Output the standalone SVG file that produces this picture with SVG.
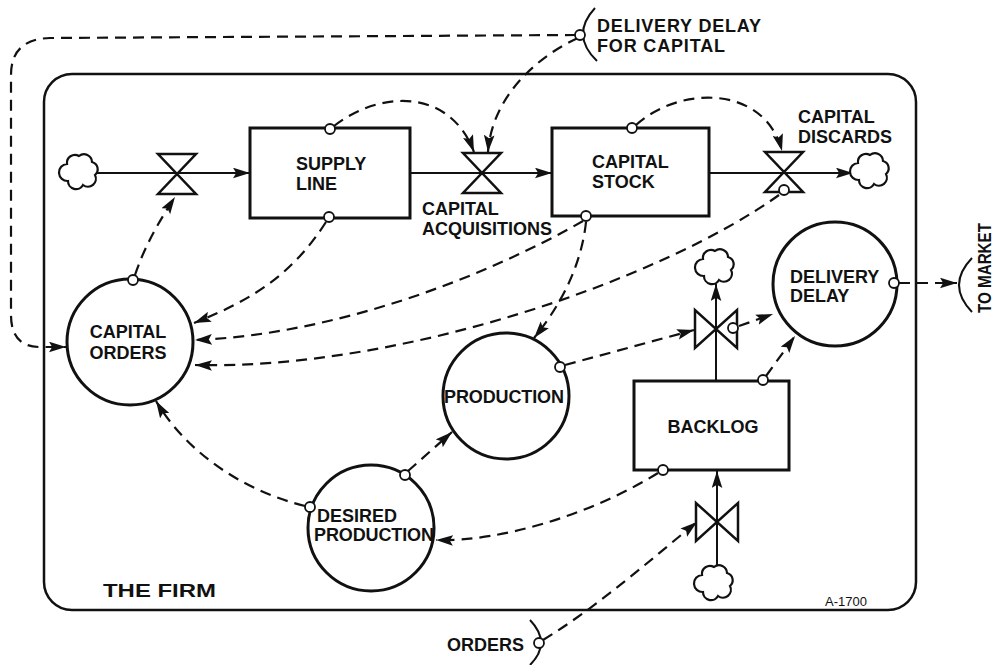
<svg xmlns="http://www.w3.org/2000/svg" width="996" height="665" viewBox="0 0 996 665">
<style>
.lbl{font-family:"Liberation Sans","Helvetica",Arial,sans-serif;font-weight:bold;font-size:18px;fill:#111}
.frame{fill:none;stroke:#111;stroke-width:2.5}
.box{fill:#fff;stroke:#111;stroke-width:3}
.aux{fill:#fff;stroke:#111;stroke-width:3}
.valve{fill:#fff;stroke:#111;stroke-width:2.5;stroke-linejoin:miter}
.cloud{fill:#fff;stroke:#111;stroke-width:2.2}
.flow{fill:none;stroke:#111;stroke-width:2;marker-end:url(#ah)}
.info{fill:none;stroke:#111;stroke-width:2.2;stroke-dasharray:11 7;marker-end:url(#ah)}
.tap{fill:#fff;stroke:#111;stroke-width:1.8}
.arc{fill:none;stroke:#111;stroke-width:2}
</style>
<defs>
<marker id="ah" viewBox="0 0 16 10" refX="16" refY="5" markerWidth="17" markerHeight="11" markerUnits="userSpaceOnUse" orient="auto">
<path d="M0,0 L16,5 L0,10 L3,5 z" fill="#111"/>
</marker>
<path id="cloudshape" d="M-12,-9 a8,8 0 0 1 12,-8 a8,8 0 0 1 13,6 a7.5,7.5 0 0 1 3,13 a8,8 0 0 1 -12,10 a8,8 0 0 1 -15,-4 a8,8 0 0 1 -1,-17 z"/>
<path id="hvalve" d="M-19,-20 L19,-20 L-19,20 L19,20 Z"/>
<path id="vvalve" d="M-21,-19 L-21,19 L21,-19 L21,19 Z"/>
</defs>

<g id="the-firm">
<rect class="frame" x="44" y="74" width="872" height="536" rx="28" ry="28"/>
<text class="lbl" x="103" y="597" font-size="22" textLength="113" lengthAdjust="spacingAndGlyphs">THE FIRM</text>
<text x="825" y="606" font-family="Liberation Sans, Arial, sans-serif" font-size="13" fill="#111">A-1700</text>
</g>

<g id="connectors">
<path class="flow" d="M97,173 L250,173"/>
<path class="flow" d="M410,173 L552,173"/>
<path class="flow" d="M709,173 L853,173"/>
<path class="flow" d="M716,381 L716,284"/>
<path class="flow" d="M717,567 L717,471"/>
<path class="info" d="M576,35 L50,38 Q11,39 11,75 L11,315 Q11,347 40,347 L66,347"/>
<path class="info" d="M578,38 C540,55 492,95 488,152"/>
<path class="info" d="M334,126 C380,90 450,88 474,152"/>
<path class="info" d="M636,125 C680,85 765,85 782,151"/>
<path class="info" d="M326,222 C292,275 252,300 194,323"/>
<path class="info" d="M583,221 C480,280 330,335 195,340"/>
<path class="info" d="M779,195 C660,280 400,370 195,365"/>
<path class="info" d="M586,222 C582,260 565,300 534,338"/>
<path class="info" d="M565,365 L694,330"/>
<path class="info" d="M739,326 L773,314"/>
<path class="info" d="M766,376 L795,336"/>
<path class="info" d="M899,283 L957,283"/>
<path class="info" d="M658,473 C590,515 500,542 436,540"/>
<path class="info" d="M408,471 L452,432"/>
<path class="info" d="M305,506 C240,490 185,450 156,401"/>
<path class="info" d="M135,275 C145,245 160,220 175,197"/>
<path class="info" d="M543,640 C600,605 650,560 697,522"/>
</g>

<g id="supply-line-source"><use href="#cloudshape" class="cloud" transform="translate(79,173)"/></g>
<g id="capital-orders-valve"><use href="#hvalve" class="valve" transform="translate(177,174)"/></g>
<g id="supply-line">
<rect class="box" x="250" y="128" width="160" height="90"/>
<text class="lbl" x="296" y="170">SUPPLY</text>
<text class="lbl" x="296" y="190">LINE</text>
</g>
<g id="capital-acquisitions">
<use href="#hvalve" class="valve" transform="translate(482,173)"/>
<text class="lbl" x="422" y="215">CAPITAL</text>
<text class="lbl" x="422" y="235">ACQUISITIONS</text>
</g>
<g id="capital-stock">
<rect class="box" x="552" y="128" width="157" height="88"/>
<text class="lbl" x="592" y="168">CAPITAL</text>
<text class="lbl" x="592" y="188">STOCK</text>
</g>
<g id="capital-discards">
<use href="#hvalve" class="valve" transform="translate(784,172)"/>
<text class="lbl" x="798" y="123">CAPITAL</text>
<text class="lbl" x="798" y="143">DISCARDS</text>
</g>
<g id="discards-sink"><use href="#cloudshape" class="cloud" transform="translate(870,172)"/></g>

<g id="delivery-delay-for-capital">
<path class="arc" d="M595,8 Q570,35 597,61"/>
<text class="lbl" x="597" y="32" textLength="164">DELIVERY DELAY</text>
<text class="lbl" x="597" y="52" textLength="128">FOR CAPITAL</text>
</g>

<g id="capital-orders">
<circle class="aux" cx="130" cy="342" r="63"/>
<text class="lbl" x="128" y="338" text-anchor="middle">CAPITAL</text>
<text class="lbl" x="128" y="359" text-anchor="middle">ORDERS</text>
</g>
<g id="production">
<circle class="aux" cx="506" cy="396" r="63"/>
<text class="lbl" x="504" y="403" text-anchor="middle" textLength="120">PRODUCTION</text>
</g>
<g id="desired-production">
<circle class="aux" cx="371" cy="528" r="63"/>
<text class="lbl" x="317" y="522">DESIRED</text>
<text class="lbl" x="314" y="541" textLength="120">PRODUCTION</text>
</g>
<g id="delivery-delay">
<circle class="aux" cx="835" cy="284" r="62"/>
<text class="lbl" x="790" y="283">DELIVERY</text>
<text class="lbl" x="790" y="302">DELAY</text>
</g>
<g id="shipments-valve"><use href="#vvalve" class="valve" transform="translate(716,329)"/></g>
<g id="shipments-sink"><use href="#cloudshape" class="cloud" transform="translate(715,268)"/></g>
<g id="backlog">
<rect class="box" x="634" y="381" width="155" height="89"/>
<text class="lbl" x="713" y="433" text-anchor="middle">BACKLOG</text>
</g>
<g id="orders-valve"><use href="#vvalve" class="valve" transform="translate(717,522)"/></g>
<g id="orders-source"><use href="#cloudshape" class="cloud" transform="translate(714,584)"/></g>

<g id="to-market">
<path class="arc" d="M972,258 Q946,285 972,312"/>
<text class="lbl" transform="translate(991,313) rotate(-90)" font-size="17" textLength="90" lengthAdjust="spacingAndGlyphs">TO MARKET</text>
</g>
<g id="orders">
<path class="arc" d="M530,620 Q552,643 530,665"/>
<text class="lbl" x="447" y="651">ORDERS</text>
</g>

<g id="taps">
<circle class="tap" cx="580" cy="35" r="5"/>
<circle class="tap" cx="330" cy="129" r="5"/>
<circle class="tap" cx="329" cy="217" r="5"/>
<circle class="tap" cx="632" cy="128" r="5"/>
<circle class="tap" cx="586" cy="216" r="5"/>
<circle class="tap" cx="784" cy="190" r="5"/>
<circle class="tap" cx="133" cy="280" r="5"/>
<circle class="tap" cx="560" cy="367" r="5"/>
<circle class="tap" cx="733" cy="328" r="5"/>
<circle class="tap" cx="894" cy="283" r="5"/>
<circle class="tap" cx="763" cy="380" r="5"/>
<circle class="tap" cx="663" cy="470" r="5"/>
<circle class="tap" cx="405" cy="475" r="5"/>
<circle class="tap" cx="310" cy="507" r="5"/>
<circle class="tap" cx="539" cy="643" r="5"/>
</g>
</svg>
